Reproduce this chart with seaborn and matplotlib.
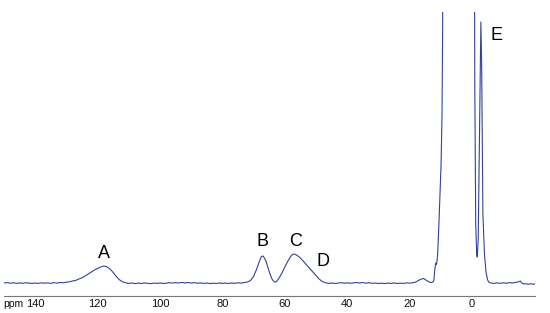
import matplotlib
matplotlib.use("Agg")
import matplotlib.pyplot as plt
from matplotlib.transforms import offset_copy
import seaborn as sns
import pandas as pd

# chemical shift (ppm) and intensity (baseline = 0)
ppm_base1 = [150, 149, 148, 147, 146, 145, 144, 143, 142, 141, 140, 139, 138, 137, 136, 135, 134, 133, 132, 131]
int_base1 = [1.0, 1.4, 0.8, 1.2, 0.6, 1.1, 0.7, 1.3, 0.9, 0.5, 1.0, 0.6, 1.2, 0.8, 1.1, 0.7, 1.3, 0.9, 1.5, 1.2]

ppm_A = [130, 129, 128, 127, 126, 125, 124, 123, 122, 121, 120, 119, 118, 117, 116, 115, 114, 113, 112, 111]
int_A = [1.8, 2.2, 3.0, 3.6, 5.0, 6.2, 8.0, 10.0, 12.0, 14.0, 15.5, 17.0, 18.0, 17.2, 15.0, 11.5, 7.5, 4.2, 2.2, 1.2]

ppm_base2 = [110, 109, 108, 107, 106, 105, 104, 103, 102, 101, 100, 99, 98, 97, 96, 95, 94, 93, 92,
             91, 90, 89, 88, 87, 86, 85, 84, 83, 82, 81, 80, 79, 78, 77, 76, 75, 74, 73]
int_base2 = [0.6, 1.0, 0.4, 0.9, 0.5, 1.1, 0.7, 0.3, 0.9, 0.6, 1.0, 0.5, 0.8, 1.3, 0.9, 1.4, 1.0, 1.6, 1.1,
             1.5, 0.9, 1.3, 0.8, 1.1, 0.6, 0.9, 0.4, 0.8, 0.5, 1.0, 0.6, 0.9, 0.5, 1.0, 0.7, 1.2, 0.9, 1.4]

ppm_B = [72, 71, 70, 69, 68, 67.5, 67, 66.5, 66, 65.5, 65, 64.5, 64, 63.5, 63]
int_B = [2.0, 3.5, 7.5, 15.0, 24.0, 27.5, 28.0, 26.0, 22.5, 17.5, 12.5, 8.0, 4.5, 2.5, 1.8]

ppm_CD = [62.5, 62, 61, 60, 59, 58, 57.3, 56.5, 56, 55, 54, 53, 52, 51, 50, 49, 48, 47]
int_CD = [3.0, 5.0, 10.5, 17.0, 23.0, 28.0, 30.0, 29.5, 28.5, 26.0, 22.5, 19.0, 15.5, 12.0, 8.5, 5.0, 2.5, 1.3]

ppm_base3 = [46, 45, 44, 43, 42, 41, 40, 39, 38, 37, 36, 35, 34, 33, 32, 31, 30, 29, 28, 27, 26, 25, 24, 23, 22, 21, 20]
int_base3 = [0.6, 1.0, 0.5, 0.9, 1.3, 0.8, 1.2, 0.7, 1.1, 1.5, 1.0, 1.4, 0.9, 1.2, 0.7, 1.0, 0.5, 0.8, 0.4, 0.9, 0.6, 1.0, 0.5, 0.9, 0.6, 1.1, 0.8]

ppm_E = [19, 18, 17, 16, 15.5, 15, 14, 13.5, 13, 12.5, 12.2, 11.9, 11.6, 11.4, 11.2, 11.0, 10.6, 10.2, 9.9, 9.6, 9.4, 9.3,
         5, 0, -0.6, -0.9, -1.2, -1.5, -1.7, -2.0, -2.4, -2.85, -3.1, -3.5, -4.0, -4.5, -5.0, -5.5]
int_E = [1.2, 2.0, 3.8, 5.2, 5.5, 4.5, 2.5, 1.8, 1.5, 2.0, 4.0, 15.0, 21.0, 19.5, 23.0, 30.0, 60.0, 95.0, 120.0, 170.0, 260.0, 600.0,
         600.0, 600.0, 600.0, 200.0, 60.0, 30.0, 27.0, 45.0, 150.0, 262.0, 220.0, 70.0, 30.0, 12.0, 4.0, 1.5]

ppm_base4 = [-6, -7, -8, -9, -10, -11, -12, -13, -14, -15, -15.5, -16, -16.5, -17, -18, -19, -20, -20.2]
int_base4 = [1.0, 0.6, 1.1, 0.7, 1.2, 0.8, 1.3, 1.0, 1.6, 2.2, 3.0, 1.0, 0.0, 0.3, -0.2, 0.2, -0.3, 0.0]

tick_ppm = [140, 120, 100, 80, 60, 40, 20, 0]
peak_labels = ["A", "B", "C", "D", "E"]
label_ppm = [118, 67.3, 56.7, 47.8, -8.0]
label_int = [31, 42, 42, 22, 249]

df = pd.DataFrame({
    "ppm": ppm_base1 + ppm_A + ppm_base2 + ppm_B + ppm_CD + ppm_base3 + ppm_E + ppm_base4,
    "intensity": int_base1 + int_A + int_base2 + int_B + int_CD + int_base3 + int_E + int_base4,
})

sns.set_style("white")
plt.rcParams["font.family"] = ["Liberation Sans", "DejaVu Sans"]

fig = plt.figure(figsize=(5.5, 3.13), dpi=100)
ax = fig.add_axes([4 / 550, 17 / 313, 531 / 550, 284 / 313])

sns.lineplot(data=df, x="ppm", y="intensity", estimator=None, sort=False,
             color="#34429a", linewidth=0.8, ax=ax)

ax.set_xlim(150, -20.2)
ax.set_ylim(-12, 272)
ax.set_xticks(tick_ppm)
ax.set_xticklabels([str(t) for t in tick_ppm])
ax.set_xticks([130, 110, 90, 70, 50, 30, 10, -10], minor=True)
ax.tick_params(axis="x", which="major", direction="in", length=3, width=0.6,
               color="#555555", labelsize=8, pad=2, labelcolor="#111111")
ax.tick_params(axis="x", which="minor", direction="in", length=2, width=0.5, color="#888888")
ax.set_yticks([])
ax.set_xlabel("")
ax.set_ylabel("")
for side in ["top", "left", "right"]:
    ax.spines[side].set_visible(False)
ax.spines["bottom"].set_color("#777777")
ax.spines["bottom"].set_linewidth(0.8)

# unit label sits on the same line as the tick labels, left of "140"
ppm_trans = offset_copy(ax.get_xaxis_transform(), fig=fig, y=-2, units="points")
ax.text(150.2, 0, "ppm", transform=ppm_trans, ha="left", va="top",
        fontsize=7.5, color="#111111")

for lab, x, y in zip(peak_labels, label_ppm, label_int):
    ax.text(x, y, lab, ha="center", va="center", fontsize=13, color="black")

fig.savefig("out.png", dpi=100)
